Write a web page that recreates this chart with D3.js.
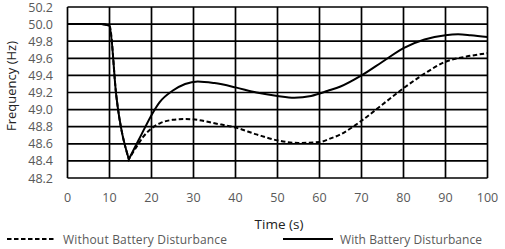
<!DOCTYPE html>
<html><head><meta charset="utf-8">
<script src="https://cdn.jsdelivr.net/npm/d3@7"></script>
<style>html,body{margin:0;padding:0;background:#fff;}svg{display:block;}</style>
</head><body>
<svg id="c" width="505" height="249"></svg>
<script>
const xTicks = [0,10,20,30,40,50,60,70,80,90,100];
const yTicks = [48.2,48.4,48.6,48.8,49.0,49.2,49.4,49.6,49.8,50.0,50.2];
const withBattery = [[0,50.0],[8,50.0],[10,49.98],[11.6,49.17],[14.6,48.42],[17,48.65],[20.4,48.97],[22,49.09],[25,49.22],[28,49.3],[31,49.33],[35,49.31],[40,49.26],[45,49.2],[50,49.16],[54,49.14],[58,49.16],[62,49.22],[65,49.27],[70,49.4],[75,49.56],[80,49.72],[85,49.82],[90,49.87],[93,49.88],[96,49.87],[100,49.85]];
const withoutBattery = [[0,50.0],[8,50.0],[10,49.98],[11.6,49.17],[14.6,48.42],[16.5,48.57],[18,48.68],[20,48.78],[22,48.84],[25,48.88],[28,48.89],[31,48.88],[35,48.84],[40,48.79],[45,48.71],[50,48.64],[55,48.61],[60,48.62],[62.5,48.66],[65,48.71],[70,48.87],[75,49.06],[80,49.25],[85,49.42],[90,49.56],[95,49.62],[100,49.66]];
const seriesNames = ["Without Battery Disturbance","With Battery Disturbance"];

const svg = d3.select("#c");
const m = {l:67.5, r:487.5, t:7, b:178};
const x = d3.scaleLinear().domain([0,100]).range([m.l,m.r]);
const y = d3.scaleLinear().domain([48.2,50.2]).range([m.b,m.t]);
const font = "'Open Sans', sans-serif";

const g = svg.append("g");
g.selectAll(".vg").data(xTicks).enter().append("line")
  .attr("x1",d=>x(d)).attr("x2",d=>x(d)).attr("y1",m.t).attr("y2",m.b)
  .attr("stroke","#000").attr("stroke-width",1.7);
g.selectAll(".hg").data(yTicks).enter().append("line")
  .attr("x1",m.l).attr("x2",m.r).attr("y1",d=>y(d)).attr("y2",d=>y(d))
  .attr("stroke","#000").attr("stroke-width",1.7);

svg.selectAll(".xl").data(xTicks).enter().append("text")
  .attr("x",d=>x(d)).attr("y",202).attr("text-anchor","middle")
  .attr("font-family",font).attr("font-size",12.5).attr("fill","#595959")
  .text(d=>d);
svg.selectAll(".yl").data(yTicks).enter().append("text")
  .attr("x",53).attr("y",d=>y(d)+4.5).attr("text-anchor","end")
  .attr("font-family",font).attr("font-size",12.5).attr("fill","#595959")
  .text(d=>d.toFixed(1));

svg.append("text").attr("x",279).attr("y",229).attr("text-anchor","middle")
  .attr("font-family",font).attr("font-size",13.5).attr("fill","#222").text("Time (s)");
svg.append("text").attr("transform","translate(16,86) rotate(-90)").attr("text-anchor","middle")
  .attr("font-family",font).attr("font-size",13).attr("fill","#222").text("Frequency (Hz)");

// sharp V at the minimum: linear up to the minimum, smooth afterwards
function pathFor(data){
  let mi = 0;
  data.forEach((d,i)=>{ if(d[1] < data[mi][1]) mi = i; });
  const lin = d3.line().x(d=>x(d[0])).y(d=>y(d[1])).curve(d3.curveMonotoneX);
  const a = lin(data.slice(0, mi+1));
  const b = d3.line().x(d=>x(d[0])).y(d=>y(d[1])).curve(d3.curveMonotoneX)(data.slice(mi));
  return a + "L" + b.slice(1);
}
svg.append("path").datum(withoutBattery).attr("d",pathFor).attr("fill","none")
  .attr("stroke","#000").attr("stroke-width",2).attr("stroke-dasharray","4.5,2.5");
svg.append("path").datum(withBattery).attr("d",pathFor).attr("fill","none")
  .attr("stroke","#000").attr("stroke-width",2);

// legend
svg.append("line").attr("x1",7).attr("x2",55).attr("y1",239).attr("y2",239)
  .attr("stroke","#000").attr("stroke-width",2).attr("stroke-dasharray","4.5,2.5");
svg.append("text").attr("x",63).attr("y",243.5).attr("font-family",font).attr("font-size",12)
  .attr("fill","#595959").attr("textLength",164).text(seriesNames[0]);
svg.append("line").attr("x1",283).attr("x2",333).attr("y1",239).attr("y2",239)
  .attr("stroke","#000").attr("stroke-width",2);
svg.append("text").attr("x",340).attr("y",243.5).attr("font-family",font).attr("font-size",12)
  .attr("fill","#595959").attr("textLength",142).text(seriesNames[1]);
</script>
</body></html>
